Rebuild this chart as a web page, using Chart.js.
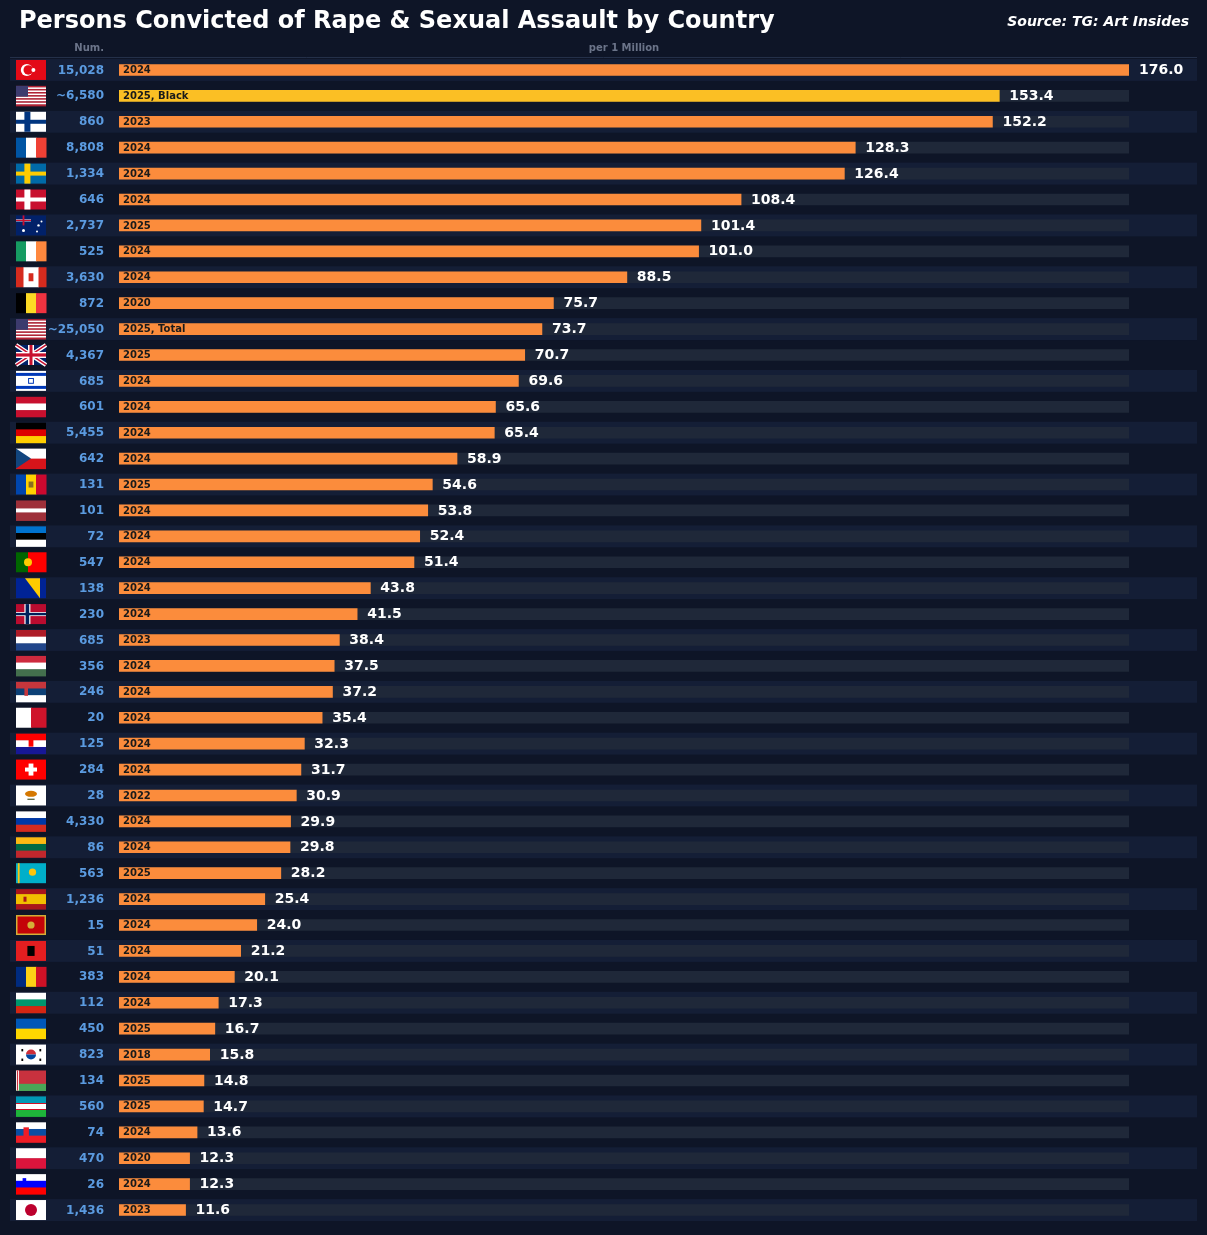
<!DOCTYPE html>
<html><head><meta charset="utf-8">
<script src="https://cdn.jsdelivr.net/npm/chart.js@4"></script>
<style>html,body{margin:0;padding:0;background:#0e1527;}canvas{display:block}</style>
</head><body>
<div style="width:1207px;height:1235px;position:relative"><canvas id="c" width="1207" height="1235"></canvas></div>
<script>
const countries=["tr","us","fi","fr","se","dk","au","ie","ca","be","us","gb","il","at","de","cz","md","lv","ee","pt","ba","no","nl","hu","rs","mt","hr","ch","cy","ru","lt","kz","es","me","al","ro","bg","ua","kr","by","uz","sk","pl","si","jp"];
const counts=["15,028","~6,580","860","8,808","1,334","646","2,737","525","3,630","872","~25,050","4,367","685","601","5,455","642","131","101","72","547","138","230","685","356","246","20","125","284","28","4,330","86","563","1,236","15","51","383","112","450","823","134","560","74","470","26","1,436"];
const years=["2024","2025, Black","2023","2024","2024","2024","2025","2024","2024","2020","2025, Total","2025","2024","2024","2024","2024","2025","2024","2024","2024","2024","2024","2023","2024","2024","2024","2024","2024","2022","2024","2024","2025","2024","2024","2024","2024","2024","2025","2018","2025","2025","2024","2020","2024","2023"];
const perMillion=[176.0,153.4,152.2,128.3,126.4,108.4,101.4,101.0,88.5,75.7,73.7,70.7,69.6,65.6,65.4,58.9,54.6,53.8,52.4,51.4,43.8,41.5,38.4,37.5,37.2,35.4,32.3,31.7,30.9,29.9,29.8,28.2,25.4,24.0,21.2,20.1,17.3,16.7,15.8,14.8,14.7,13.6,12.3,12.3,11.6];
const maxValue=176;

const FONT='"DejaVu Sans", sans-serif';
function flag(ctx,code,x,y,w,h){
  const H=(cols,ws)=>{let t=ws?ws.reduce((a,b)=>a+b,0):cols.length,yy=y;cols.forEach((c,i)=>{const hh=h*(ws?ws[i]:1)/t;ctx.fillStyle=c;ctx.fillRect(x,yy,w,hh+0.5);yy+=hh;});};
  const V=(cols,ws)=>{let t=ws?ws.reduce((a,b)=>a+b,0):cols.length,xx=x;cols.forEach((c,i)=>{const ww=w*(ws?ws[i]:1)/t;ctx.fillStyle=c;ctx.fillRect(xx,y,ww+0.5,h);xx+=ww;});};
  const N=(bg,c1,c2)=>{ctx.fillStyle=bg;ctx.fillRect(x,y,w,h);ctx.fillStyle=c1;ctx.fillRect(x+w*0.28,y,w*0.2,h);ctx.fillRect(x,y+h*0.4,w,h*0.2);if(c2){ctx.fillStyle=c2;ctx.fillRect(x+w*0.32,y,w*0.12,h);ctx.fillRect(x,y+h*0.44,w,h*0.12);}};
  const circ=(cx,cy,r,c)=>{ctx.fillStyle=c;ctx.beginPath();ctx.arc(cx,cy,r,0,Math.PI*2);ctx.fill();};
  const R='#e30a17',W='#ffffff';
  switch(code){
    case 'tr':ctx.fillStyle=R;ctx.fillRect(x,y,w,h);circ(x+w*0.36,y+h/2,h*0.3,W);circ(x+w*0.41,y+h/2,h*0.24,R);circ(x+w*0.58,y+h/2,h*0.1,W);break;
    case 'us':{const c=[];for(let i=0;i<13;i++)c.push(i%2?W:'#b22234');H(c);ctx.fillStyle='#3c3b6e';ctx.fillRect(x,y,w*0.4,h*7/13);}break;
    case 'fi':N(W,'#003580');break;
    case 'fr':V(['#0055a4',W,'#ef4135']);break;
    case 'se':N('#006aa7','#fecc00');break;
    case 'dk':N('#c8102e',W);break;
    case 'au':ctx.fillStyle='#012169';ctx.fillRect(x,y,w,h);ctx.fillStyle=W;ctx.fillRect(x,y+h*0.2,w*0.5,h*0.1);ctx.fillStyle='#c8102e';ctx.fillRect(x+w*0.22,y,w*0.06,h*0.5);ctx.fillRect(x,y+h*0.22,w*0.5,h*0.06);circ(x+w*0.75,y+h*0.5,1.2,W);circ(x+w*0.85,y+h*0.3,1,W);circ(x+w*0.7,y+h*0.8,1,W);circ(x+w*0.25,y+h*0.75,1.5,W);break;
    case 'ie':V(['#169b62',W,'#ff883e']);break;
    case 'ca':V(['#d52b1e',W,'#d52b1e'],[1,2,1]);ctx.fillStyle='#d52b1e';ctx.fillRect(x+w*0.42,y+h*0.3,w*0.16,h*0.4);break;
    case 'be':V(['#000000','#fdda24','#ef3340']);break;
    case 'gb':ctx.fillStyle='#012169';ctx.fillRect(x,y,w,h);ctx.strokeStyle=W;ctx.lineWidth=4;ctx.beginPath();ctx.moveTo(x,y);ctx.lineTo(x+w,y+h);ctx.moveTo(x+w,y);ctx.lineTo(x,y+h);ctx.stroke();ctx.strokeStyle='#c8102e';ctx.lineWidth=1.5;ctx.stroke();ctx.fillStyle=W;ctx.fillRect(x+w*0.4,y,w*0.2,h);ctx.fillRect(x,y+h*0.35,w,h*0.3);ctx.fillStyle='#c8102e';ctx.fillRect(x+w*0.45,y,w*0.1,h);ctx.fillRect(x,y+h*0.42,w,h*0.16);break;
    case 'il':ctx.fillStyle=W;ctx.fillRect(x,y,w,h);ctx.fillStyle='#0038b8';ctx.fillRect(x,y+h*0.1,w,h*0.15);ctx.fillRect(x,y+h*0.75,w,h*0.15);ctx.strokeStyle='#0038b8';ctx.lineWidth=1;ctx.strokeRect(x+w*0.42,y+h*0.38,w*0.16,h*0.24);break;
    case 'at':H(['#c8102e',W,'#c8102e']);break;
    case 'de':H(['#000000','#dd0000','#ffce00']);break;
    case 'cz':H([W,'#d7141a']);ctx.fillStyle='#11457e';ctx.beginPath();ctx.moveTo(x,y);ctx.lineTo(x+w*0.5,y+h/2);ctx.lineTo(x,y+h);ctx.fill();break;
    case 'md':V(['#0046ae','#ffd200','#cc092f']);ctx.fillStyle='#8a6d1e';ctx.fillRect(x+w*0.42,y+h*0.35,w*0.16,h*0.3);break;
    case 'lv':H(['#9e3039',W,'#9e3039'],[2,1,2]);break;
    case 'ee':H(['#0072ce','#000000',W]);break;
    case 'pt':V(['#006600','#ff0000'],[2,3]);circ(x+w*0.4,y+h/2,h*0.2,'#ffcc00');break;
    case 'ba':ctx.fillStyle='#002395';ctx.fillRect(x,y,w,h);ctx.fillStyle='#fecb00';ctx.beginPath();ctx.moveTo(x+w*0.3,y);ctx.lineTo(x+w*0.8,y);ctx.lineTo(x+w*0.8,y+h);ctx.fill();break;
    case 'no':N('#ba0c2f',W,'#00205b');break;
    case 'nl':H(['#ae1c28',W,'#21468b']);break;
    case 'hu':H(['#cd2a3e',W,'#436f4d']);break;
    case 'rs':H(['#c6363c','#0c4076',W]);ctx.fillStyle='#c6363c';ctx.fillRect(x+w*0.28,y+h*0.25,w*0.12,h*0.45);break;
    case 'mt':V([W,'#cf142b']);break;
    case 'hr':H(['#ff0000',W,'#171796']);ctx.fillStyle='#ff0000';ctx.fillRect(x+w*0.42,y+h*0.25,w*0.16,h*0.4);break;
    case 'ch':ctx.fillStyle='#ff0000';ctx.fillRect(x,y,w,h);ctx.fillStyle=W;ctx.fillRect(x+w*0.42,y+h*0.2,w*0.16,h*0.6);ctx.fillRect(x+w*0.3,y+h*0.4,w*0.4,h*0.2);break;
    case 'cy':ctx.fillStyle=W;ctx.fillRect(x,y,w,h);ctx.fillStyle='#d57800';ctx.beginPath();ctx.ellipse(x+w*0.5,y+h*0.42,w*0.2,h*0.15,0,0,Math.PI*2);ctx.fill();ctx.fillStyle='#4e5b31';ctx.fillRect(x+w*0.38,y+h*0.66,w*0.24,h*0.06);break;
    case 'ru':H([W,'#0039a6','#d52b1e']);break;
    case 'lt':H(['#fdb913','#006a44','#c1272d']);break;
    case 'kz':ctx.fillStyle='#00afca';ctx.fillRect(x,y,w,h);circ(x+w*0.55,y+h*0.45,h*0.18,'#fec50c');ctx.fillStyle='#fec50c';ctx.fillRect(x+w*0.06,y,w*0.06,h);break;
    case 'es':H(['#aa151b','#f1bf00','#aa151b'],[1,2,1]);ctx.fillStyle='#aa151b';ctx.fillRect(x+w*0.25,y+h*0.38,w*0.1,h*0.25);break;
    case 'me':ctx.fillStyle='#d4af37';ctx.fillRect(x,y,w,h);ctx.fillStyle='#c40308';ctx.fillRect(x+1.5,y+1.5,w-3,h-3);circ(x+w/2,y+h/2,h*0.18,'#d4af37');break;
    case 'al':ctx.fillStyle='#e41e20';ctx.fillRect(x,y,w,h);ctx.fillStyle='#000';ctx.fillRect(x+w*0.38,y+h*0.25,w*0.24,h*0.5);break;
    case 'ro':V(['#002b7f','#fcd116','#ce1126']);break;
    case 'bg':H([W,'#00966e','#d62612']);break;
    case 'ua':H(['#0057b7','#ffd700']);break;
    case 'kr':ctx.fillStyle=W;ctx.fillRect(x,y,w,h);ctx.fillStyle='#cd2e3a';ctx.beginPath();ctx.arc(x+w/2,y+h/2,h*0.25,Math.PI,0);ctx.fill();ctx.fillStyle='#0047a0';ctx.beginPath();ctx.arc(x+w/2,y+h/2,h*0.25,0,Math.PI);ctx.fill();ctx.fillStyle='#000';[[0.18,0.22],[0.78,0.22],[0.18,0.7],[0.78,0.7]].forEach(p=>ctx.fillRect(x+w*p[0],y+h*p[1],w*0.06,h*0.12));break;
    case 'by':H(['#c8313e','#4aa657'],[2,1]);ctx.fillStyle=W;ctx.fillRect(x,y,w*0.1,h);ctx.fillStyle='#c8313e';ctx.fillRect(x+w*0.03,y,w*0.04,h);break;
    case 'uz':H(['#0099b5',W,'#1eb53a']);ctx.fillStyle='#ce1126';ctx.fillRect(x,y+h*0.33,w,1);ctx.fillRect(x,y+h*0.63,w,1);break;
    case 'sk':H([W,'#0b4ea2','#ee1c25']);ctx.fillStyle='#ee1c25';ctx.fillRect(x+w*0.25,y+h*0.25,w*0.18,h*0.5);break;
    case 'pl':H([W,'#dc143c']);break;
    case 'si':H([W,'#0000ff','#ff0000']);ctx.fillStyle='#0000ff';ctx.fillRect(x+w*0.22,y+h*0.2,w*0.12,h*0.3);break;
    case 'jp':ctx.fillStyle=W;ctx.fillRect(x,y,w,h);circ(x+w/2,y+h/2,h*0.3,'#bc002d');break;
  }
}

const decor={
  id:'decor',
  beforeDatasetsDraw(chart){
    const {ctx,scales:{y}}=chart;
    ctx.save();
    const step=y.getPixelForValue(1)-y.getPixelForValue(0);
    perMillion.forEach((v,i)=>{
      const cy=y.getPixelForValue(i);
      if(i%2===0){ctx.fillStyle='#141e36';ctx.fillRect(10,cy-step/2+2,1187,step-4);}
    });
    ctx.restore();
  },
  afterDatasetsDraw(chart){
    const {ctx,scales:{x,y}}=chart;
    ctx.save();
    ctx.fillStyle='#ffffff';ctx.font='bold 24px '+FONT;ctx.textBaseline='middle';ctx.textAlign='left';
    ctx.fillText('Persons Convicted of Rape & Sexual Assault by Country',19,22);
    ctx.font='italic bold 14px '+FONT;ctx.textAlign='right';
    ctx.fillText('Source: TG: Art Insides',1189,22);
    ctx.fillStyle='#6b7489';ctx.font='bold 10px '+FONT;
    ctx.fillText('Num.',104,48);
    ctx.textAlign='center';ctx.fillText('per 1 Million',624,48);
    ctx.strokeStyle='#243049';ctx.lineWidth=1;ctx.beginPath();ctx.moveTo(10,57.5);ctx.lineTo(1197,57.5);ctx.stroke();
    perMillion.forEach((v,i)=>{
      const cy=y.getPixelForValue(i);
      flag(ctx,countries[i],16,cy-10,30,20);
      ctx.textAlign='right';ctx.fillStyle='#5b9be0';ctx.font='bold 12px '+FONT;
      ctx.fillText(counts[i],104,cy+0.5);
      ctx.textAlign='left';ctx.fillStyle='#1a1a1a';ctx.font='bold 10px '+FONT;
      ctx.fillText(years[i],123,cy+0.5);
      ctx.fillStyle='#ffffff';ctx.font='bold 14px '+FONT;
      ctx.fillText(v.toFixed(1),x.getPixelForValue(v)+10,cy+0.5);
    });
    ctx.restore();
  }
};

new Chart(document.getElementById('c'),{
  type:'bar',
  data:{labels:countries.map((c,i)=>c+i),datasets:[
    {data:perMillion,backgroundColor:perMillion.map((v,i)=>i===1?'#fbbf24':'#fb8c3c'),barThickness:11,grouped:false,order:0},
    {data:perMillion.map(()=>maxValue),backgroundColor:'#1f2839',barThickness:11,grouped:false,order:1}
  ]},
  options:{indexAxis:'y',responsive:false,animation:false,devicePixelRatio:1,
    layout:{padding:{left:119,right:78,top:57,bottom:12}},
    plugins:{legend:{display:false},tooltip:{enabled:false}},
    scales:{x:{display:false,min:0,max:maxValue},y:{display:false}}},
  plugins:[decor,{id:'bg',beforeDraw(c){c.ctx.fillStyle='#0e1527';c.ctx.fillRect(0,0,c.width,c.height);}}]
});
</script></body></html>
